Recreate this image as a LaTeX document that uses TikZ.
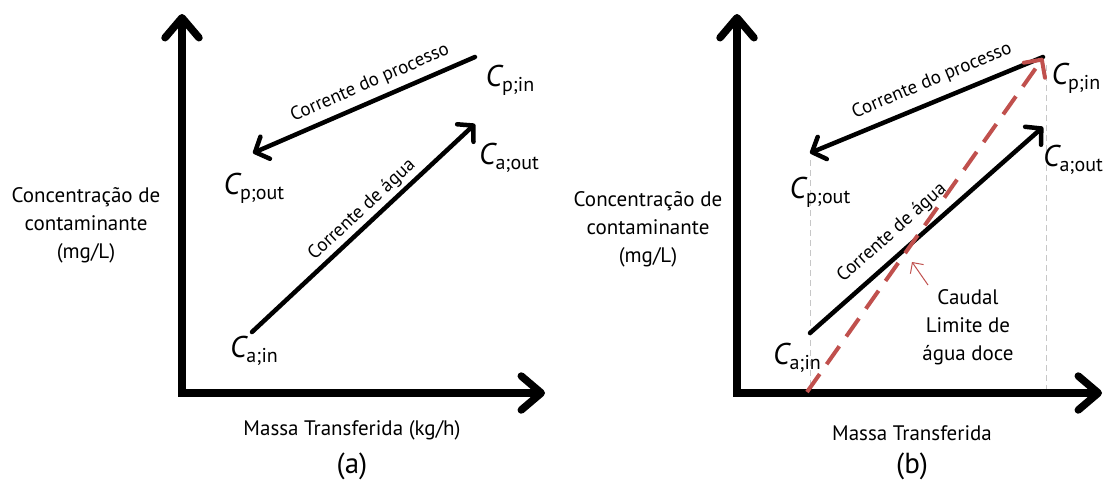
\documentclass[tikz,border=0pt]{standalone}
\usepackage{fontspec}
\setmainfont{PT Sans}
\usetikzlibrary{arrows.meta}

\definecolor{limred}{RGB}{192,80,77}

% concentration symbol: slanted C with an upright, lowered subscript
\newcommand{\conc}[1]{{\fontsize{30}{30}\selectfont\itshape C}\raisebox{-5pt}{\fontsize{20}{20}\selectfont #1}}

\tikzset{
  axes/.style={line width=7.5pt, line join=miter,
    {Straight Barb[round,length=20pt,width=34pt]}-{Straight Barb[round,length=20pt,width=34pt]}},
  stream/.style={line width=4.5pt, line cap=round,
    -{Straight Barb[round,length=11pt,width=24pt]}},
  limitflow/.style={draw=limred, line width=4pt, dash pattern=on 22pt off 12pt,
    -{Straight Barb[round,length=13pt,width=26pt]}},
  pointer/.style={draw=limred, line width=1pt,
    -{Straight Barb[length=8pt,width=16pt]}},
  guide/.style={draw=black!22, line width=0.9pt, dash pattern=on 6pt off 4pt},
  lbl/.style={inner sep=0pt, font=\fontsize{21}{28}\selectfont, align=center},
  streamlbl/.style={inner sep=0pt, font=\fontsize{19}{19}\selectfont},
  tagtext/.style={inner sep=0pt, font=\fontsize{29}{29}\selectfont},
  sym/.style={inner sep=0pt, anchor=center}
}

\begin{document}
\begin{tikzpicture}[x=1pt,y=-1pt]
\useasboundingbox (0,0) rectangle (1105,482);

% ---------------- panel (a) ----------------
\coordinate (ayt) at (182,14);
\coordinate (ao)  at (182,393);
\coordinate (axr) at (545,393);
\draw[axes] (ayt) -- (ao) -- (axr);

\coordinate (apin)  at (475,57);
\coordinate (apout) at (253,153);
\coordinate (aain)  at (252,332);
\coordinate (aaout) at (475,124);
\draw[stream] (apin) -- (apout);
\draw[stream] (aain) -- (aaout);

\node[streamlbl, rotate=23.4] (aproc) at (370,83) {Corrente do processo};
\node[streamlbl, rotate=43] (awat) at (362,210) {Corrente de água};

\node[sym] (aCpin)  at (510,80)  {\conc{p;in}};
\node[sym] (aCaout) at (509,158) {\conc{a;out}};
\node[sym] (aCpout) at (254,188) {\conc{p;out}};
\node[sym] (aCain)  at (254,351) {\conc{a;in}};

\node[lbl] (aylab) at (86,225) {Concentração de\\contaminante\\(mg/L)};
\node[lbl] (axlab) at (352,430) {Massa Transferida (kg/h)};
\node[tagtext] (atag)  at (352,466) {(a)};

% ---------------- panel (b) ----------------
\coordinate (byt) at (737,14);
\coordinate (bo)  at (737,393);
\coordinate (bxr) at (1102,393);

\coordinate (bg1t) at (810,160);
\coordinate (bg1b) at (810,393);
\coordinate (bg2t) at (1046,65);
\coordinate (bg2b) at (1046,393);
\draw[guide] (bg1t) -- (bg1b);
\draw[guide] (bg2t) -- (bg2b);

\draw[axes] (byt) -- (bo) -- (bxr);

\coordinate (bpin)  at (1043,57);
\coordinate (bpout) at (810,153);
\coordinate (bain)  at (810,333);
\coordinate (baout) at (1043,127);
\draw[stream] (bpin) -- (bpout);
\draw[stream] (bain) -- (baout);

\coordinate (blim0) at (807,392);
\coordinate (blim1) at (1043,58);
\draw[limitflow] (blim0) -- (blim1);

\node[streamlbl, rotate=22.4] (bproc) at (932,81) {Corrente do processo};
\node[streamlbl, rotate=41.5] (bwat) at (892,233) {Corrente de água};

\node[lbl] (bcaudal) at (968,327) {Caudal\\Limite de\\água doce};
\coordinate (bptr0) at (928,285);
\coordinate (bptr1) at (912,262);
\draw[pointer] (bptr0) -- (bptr1);

\node[sym] (bCpin)  at (1076,78)  {\conc{p;in}};
\node[sym] (bCaout) at (1073,160) {\conc{a;out}};
\node[sym] (bCpout) at (820,192)  {\conc{p;out}};
\node[sym] (bCain)  at (797,358)  {\conc{a;in}};

\node[lbl] (bylab) at (648,229) {Concentração de\\contaminante\\(mg/L)};
\node[lbl] (bxlab) at (912,433) {Massa Transferida};
\node[tagtext] (btag)  at (912,466) {(b)};
\end{tikzpicture}
\end{document}
